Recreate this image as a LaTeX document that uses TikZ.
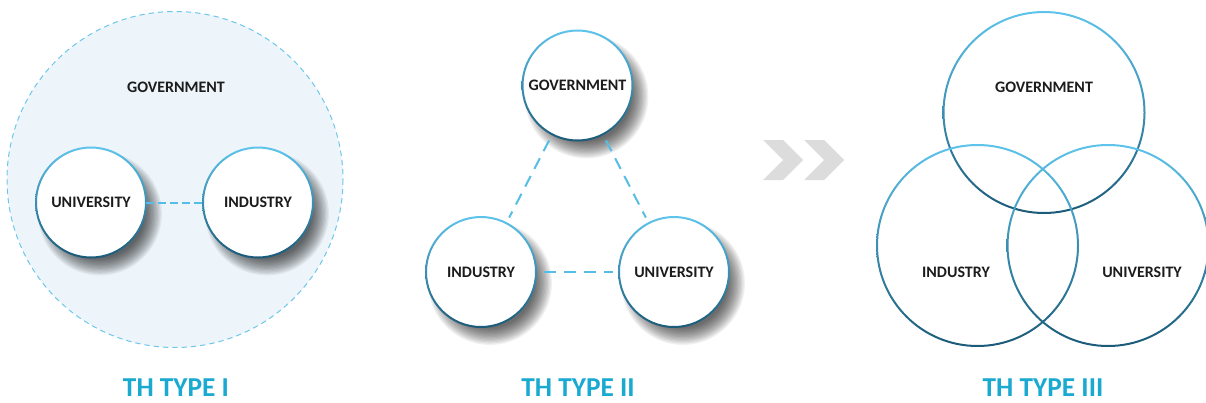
\documentclass[tikz,border=0pt]{standalone}
\usepackage{fontspec}
\setmainfont{Carlito}
\definecolor{ringtop}{HTML}{5EC4EC}
\definecolor{ringbot}{HTML}{1B5A78}
\definecolor{dashc}{HTML}{55BDE6}
\definecolor{titlec}{HTML}{19A9D1}
\definecolor{bgfill}{HTML}{EDF5FB}
\definecolor{chev}{HTML}{DCDCDC}
\definecolor{txt}{HTML}{1C1C1C}
\newcommand\blurshadow[2]{%
  \foreach \k in {0,...,13}{\fill[black,opacity=0.06] (#1) ++(9,11) circle[radius={#2-10+\k*1.3}];}}
\newcommand\gradring[2]{%
  \shade[ring] (#1) circle[radius={#2+1}] (#1) circle[radius={#2-1}];}
\begin{document}
\begin{tikzpicture}[x=0.75pt,y=-0.75pt,
  lbl/.style={font=\bfseries\fontsize{12}{14}\selectfont, text=txt},
  title/.style={font=\bfseries\fontsize{20.5}{24}\selectfont, text=titlec, anchor=base, inner sep=1pt},
  thnode/.style={circle, minimum size=82.5pt, inner sep=0pt, fill=white, lbl},
  link/.style={dashc, line width=1.5pt},
  ring/.style={top color=ringtop, bottom color=ringbot, even odd rule},
  chevron/.style={fill=chev},
]
\useasboundingbox (0,0) rectangle (1206,403);

% ---------- TYPE I ----------
\coordinate (bg) at (175,179.5);
\draw[fill=bgfill, draw=dashc!85, line width=0.75pt, dash pattern=on 4pt off 3pt] (bg) circle[radius=168];
\node[lbl] (gov1) at (176,87) {GOVERNMENT};
\coordinate (cu1) at (91,202.5);
\coordinate (ci1) at (258,202.5);
\blurshadow{cu1}{55}
\blurshadow{ci1}{55}
\node[thnode] (uni1) at (cu1) {UNIVERSITY};
\node[thnode] (ind1) at (ci1) {INDUSTRY};
\gradring{cu1}{55}
\gradring{ci1}{55}
\draw[link, dash pattern=on 6pt off 3pt] (uni1) -- (ind1);
\node[title] (t1) at (176,396.5) {TH TYPE I};

% ---------- TYPE II ----------
\coordinate (cg2) at (577.5,85.5);
\coordinate (ci2) at (481,272);
\coordinate (cu2) at (674,272);
\blurshadow{cg2}{55}
\blurshadow{ci2}{55}
\blurshadow{cu2}{55}
\node[thnode] (gov2) at (cg2) {GOVERNMENT};
\node[thnode] (ind2) at (ci2) {INDUSTRY};
\node[thnode] (uni2) at (cu2) {UNIVERSITY};
\gradring{cg2}{55}
\gradring{ci2}{55}
\gradring{cu2}{55}
\draw[link, dash pattern=on 9pt off 6pt, shorten <=5pt, shorten >=4.5pt] (gov2) -- (ind2);
\draw[link, dash pattern=on 9pt off 6pt, shorten <=5pt, shorten >=4.5pt] (gov2) -- (uni2);
\draw[link, dash pattern=on 9pt off 6pt, shorten <=6pt, shorten >=4pt] (ind2) -- (uni2);
\node[title] (t2) at (578,396.5) {TH TYPE II};

% ---------- chevrons ----------
\fill[chevron] (763,140) -- ++(20,0) -- ++(20,20) -- ++(-20,20) -- ++(-20,0) -- ++(20,-20) -- cycle;
\fill[chevron] (804,140) -- ++(20,0) -- ++(20,20) -- ++(-20,20) -- ++(-20,0) -- ++(20,-20) -- cycle;

% ---------- TYPE III ----------
\coordinate (cg3) at (1044,112.5);
\coordinate (ci3) at (977.5,245.5);
\coordinate (cu3) at (1108,245.5);
\gradring{cg3}{100.5}
\gradring{ci3}{100.5}
\gradring{cu3}{100.5}
\node[lbl] (gov3) at (1044,87) {GOVERNMENT};
\node[lbl] (ind3) at (956,272) {INDUSTRY};
\node[lbl] (uni3) at (1142,272) {UNIVERSITY};
\node[title] (t3) at (1043,396.5) {TH TYPE III};
\end{tikzpicture}
\end{document}
